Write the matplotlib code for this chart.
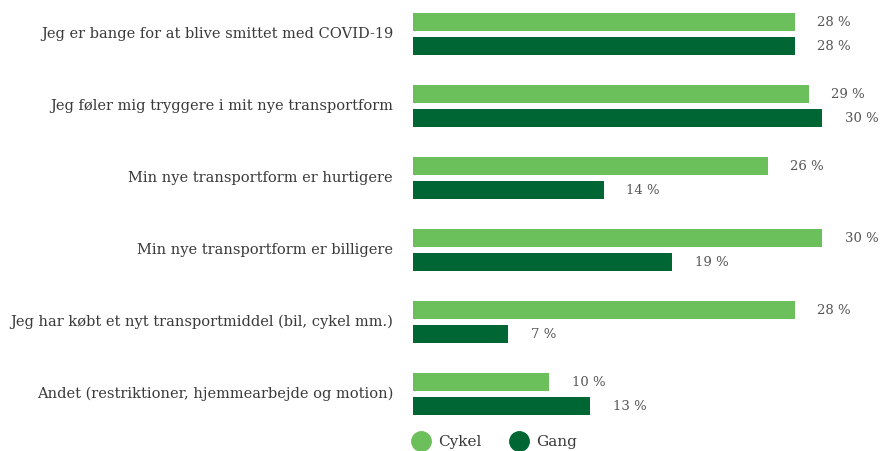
import matplotlib.pyplot as plt
import numpy as np
from matplotlib.lines import Line2D

# data
categories = [
    "Jeg er bange for at blive smittet med COVID-19",
    "Jeg føler mig tryggere i mit nye transportform",
    "Min nye transportform er hurtigere",
    "Min nye transportform er billigere",
    "Jeg har købt et nyt transportmiddel (bil, cykel mm.)",
    "Andet (restriktioner, hjemmearbejde og motion)",
]
cykel = [28, 29, 26, 30, 28, 10]
gang = [28, 30, 14, 19, 7, 13]
series_names = ["Cykel", "Gang"]

c_light = "#6cc05c"
c_dark = "#006634"
txt = "#3a3a3a"
plt.rcParams['font.family'] = ['DejaVu Serif']

fig = plt.figure(figsize=(8.8, 4.51), dpi=100)
ax = fig.add_axes([413/880, 21/451, 467/880, 430/451])

y = np.arange(len(categories))
off = 12/72
h = 18/72
ax.barh(y - off, cykel, height=h, color=c_light)
ax.barh(y + off, gang, height=h, color=c_dark)

ax.set_xlim(0, 467/13.64)
ax.set_ylim(5.5, -34/72)

for i in range(len(categories)):
    ax.text(cykel[i] + 1.65, y[i] - off, f"{cykel[i]} %", va='center', ha='left',
            fontsize=9.5, color='#555555')
    ax.text(gang[i] + 1.65, y[i] + off, f"{gang[i]} %", va='center', ha='left',
            fontsize=9.5, color='#555555')
    ax.text(-20/13.64, y[i], categories[i], va='center', ha='right',
            fontsize=10.5, color=txt)

ax.axis('off')

handles = [Line2D([], [], marker='o', linestyle='', markersize=14, color=c_light),
           Line2D([], [], marker='o', linestyle='', markersize=14, color=c_dark)]
fig.legend(handles, series_names, loc='center left', bbox_to_anchor=(398/880, 1 - 442/451),
           ncol=2, frameon=False, fontsize=11, handletextpad=0.5, columnspacing=1.9,
           labelcolor=txt, handlelength=1.2)

fig.savefig("out.png", dpi=100)
